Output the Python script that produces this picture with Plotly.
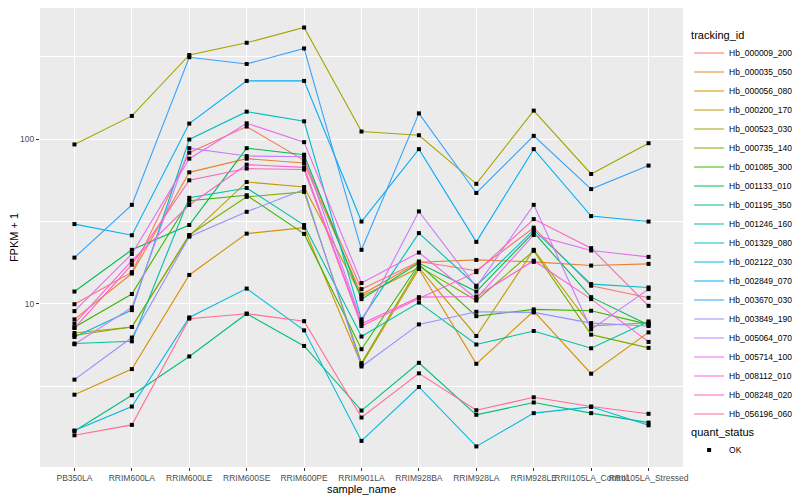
import plotly.graph_objects as go

samples = ["PB350LA", "RRIM600LA", "RRIM600LE", "RRIM600SE", "RRIM600PE", "RRIM901LA",
           "RRIM928BA", "RRIM928LA", "RRIM928LE", "RRII105LA_Control", "RRII105LA_Stressed"]

hb_000009_200 = [9.97, 15.6, 82.6, 119, 74.2, 12.3, 18.1, 15.9, 29.0, 12.9, 10.9]
hb_000035_050 = [8.07, 15.3, 62.8, 76.0, 71.5, 11.4, 17.9, 18.5, 18.0, 17.1, 17.5]
hb_000056_080 = [2.82, 4.03, 15.0, 26.7, 29.0, 4.28, 16.3, 4.34, 9.05, 3.78, 6.73]
hb_000200_170 = [6.67, 7.25, 25.9, 54.9, 51.2, 11.1, 16.6, 6.40, 21.3, 7.35, 7.70]
hb_000523_030 = [92.7, 138, 323, 383, 474, 111, 105.4, 53.5, 148.6, 61.4, 94.3]
hb_000735_140 = [6.46, 7.25, 26.2, 44.6, 47.8, 4.38, 16.9, 10.5, 21.0, 6.52, 5.42]
hb_001085_300 = [7.22, 11.5, 42.2, 45.6, 26.6, 5.32, 17.4, 8.44, 9.27, 9.10, 7.52]
hb_001133_010 = [11.9, 21.3, 30.1, 88.0, 80.3, 10.7, 17.7, 11.9, 27.2, 11.0, 7.47]
hb_001195_350 = [1.70, 2.80, 4.81, 8.73, 5.57, 2.26, 4.40, 2.13, 2.53, 2.18, 1.91]
hb_001246_160 = [5.76, 5.94, 44.0, 50.5, 30.1, 6.35, 10.2, 5.68, 6.86, 5.39, 7.84]
hb_001329_080 = [6.31, 9.18, 99.3, 146.5, 128, 8.07, 26.9, 12.9, 28.1, 13.2, 12.6]
hb_002122_030 = [1.71, 2.39, 8.29, 12.4, 6.92, 1.48, 3.14, 1.37, 2.18, 2.38, 1.84]
hb_002849_070 = [30.5, 26.1, 124, 225, 225, 31.6, 86.8, 23.8, 86.8, 34.1, 31.6]
hb_003670_030 = [19.1, 39.9, 313, 285, 354, 21.3, 143, 47.1, 104.5, 49.7, 69.0]
hb_003849_190 = [3.48, 6.26, 25.6, 36.2, 49.4, 4.18, 7.52, 8.97, 8.89, 7.66, 7.35]
hb_005064_070 = [5.70, 9.53, 88.0, 78.8, 78.1, 7.81, 36.4, 12.7, 39.9, 7.02, 12.3]
hb_005714_100 = [9.05, 20.1, 76.0, 124.5, 95.7, 13.4, 20.5, 10.8, 26.2, 21.1, 19.3]
hb_008112_010 = [7.60, 18.3, 39.8, 69.9, 67.3, 7.60, 11.0, 11.1, 18.3, 10.7, 5.89]
hb_008248_020 = [7.15, 17.3, 56.2, 66.2, 65.3, 7.35, 10.8, 15.6, 32.7, 21.8, 9.75]
hb_056196_060 = [1.60, 1.85, 8.15, 8.73, 7.87, 2.05, 3.80, 2.27, 2.72, 2.39, 2.16]

tracking_ids = ["Hb_000009_200", "Hb_000035_050", "Hb_000056_080", "Hb_000200_170",
                "Hb_000523_030", "Hb_000735_140", "Hb_001085_300", "Hb_001133_010",
                "Hb_001195_350", "Hb_001246_160", "Hb_001329_080", "Hb_002122_030",
                "Hb_002849_070", "Hb_003670_030", "Hb_003849_190", "Hb_005064_070",
                "Hb_005714_100", "Hb_008112_010", "Hb_008248_020", "Hb_056196_060"]

series_values = [hb_000009_200, hb_000035_050, hb_000056_080, hb_000200_170,
                 hb_000523_030, hb_000735_140, hb_001085_300, hb_001133_010,
                 hb_001195_350, hb_001246_160, hb_001329_080, hb_002122_030,
                 hb_002849_070, hb_003670_030, hb_003849_190, hb_005064_070,
                 hb_005714_100, hb_008112_010, hb_008248_020, hb_056196_060]

colors = ["#F8766D", "#EA8331", "#D89000", "#C09B00", "#A3A500", "#7CAE00", "#39B600",
          "#00BB4E", "#00BF7D", "#00C1A3", "#00BFC4", "#00BAE0", "#00B0F6", "#35A2FF",
          "#9590FF", "#C77CFF", "#E76BF3", "#FA62DB", "#FF62BC", "#FF6C91"]

FONT = "Liberation Sans, Arial, sans-serif"

fig = go.Figure()
for name, vals, col in zip(tracking_ids, series_values, colors):
    fig.add_trace(go.Scatter(
        x=samples, y=vals, mode="lines", name=name,
        line=dict(color=col, width=1.1), legend="legend",
    ))

all_x = [s for _ in series_values for s in samples]
all_y = [v for vals in series_values for v in vals]
fig.add_trace(go.Scatter(
    x=all_x, y=all_y, mode="markers", name="OK",
    marker=dict(symbol="square", size=4, color="black"),
    legend="legend2",
))

fig.update_layout(
    width=792, height=492,
    margin=dict(l=32, r=117, t=0, b=33, autoexpand=False),
    paper_bgcolor="white", plot_bgcolor="#EBEBEB",
    font=dict(family=FONT, size=9, color="#4D4D4D"),
    showlegend=True,
    legend=dict(
        title=dict(text="tracking_id", font=dict(size=11, color="black")),
        xref="container", yref="container", x=0.86, y=0.967,
        xanchor="left", yanchor="top", maxheight=480,
        font=dict(size=8.5, color="black"), bgcolor="white",
        itemwidth=30,
    ),
    legend2=dict(
        title=dict(text="quant_status", font=dict(size=11, color="black")),
        xref="container", yref="container", x=0.86, y=0.16,
        xanchor="left", yanchor="top",
        font=dict(size=8.5, color="black"), bgcolor="white", itemwidth=30,
    ),
    xaxis=dict(
        type="category", range=[-0.6, 10.6], automargin=False, tickangle=0,
        showgrid=True, gridcolor="white", gridwidth=1.1,
        ticks="outside", ticklen=3, tickcolor="#333333", tickwidth=1,
        tickfont=dict(size=8.5, color="#4D4D4D"), zeroline=False,
        title=dict(text="sample_name", font=dict(size=11, color="black"), standoff=0),
    ),
    yaxis=dict(
        type="log", range=[0.012, 2.794], automargin=False,
        tickvals=[10, 100], ticktext=["10", "100"],
        showgrid=True, gridcolor="white", gridwidth=1.1,
        ticks="outside", ticklen=3, tickcolor="#333333", tickwidth=1,
        tickfont=dict(size=8.5, color="#4D4D4D"), zeroline=False,
        minor=dict(tickvals=[10 ** 0.5, 10 ** 1.5, 10 ** 2.5], showgrid=True,
                   gridcolor="white", gridwidth=0.55, ticks=""),
        title=dict(text="FPKM + 1", font=dict(size=11, color="black"), standoff=4),
    ),
)

fig.write_html("out.html")
